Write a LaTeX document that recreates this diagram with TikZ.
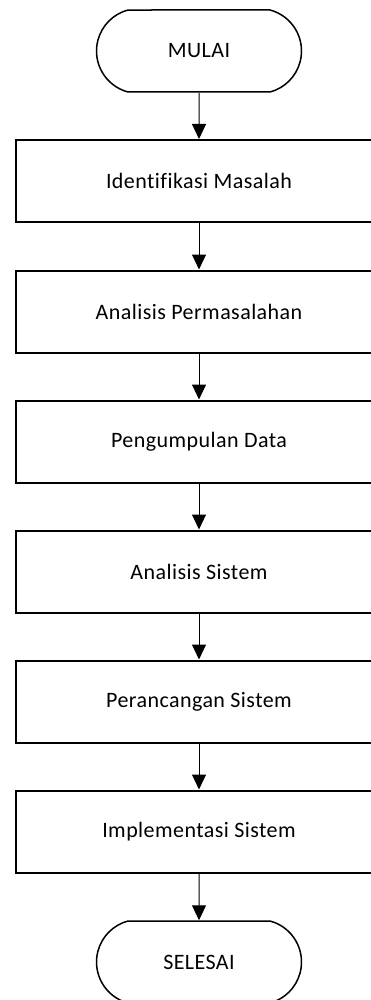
\documentclass[tikz,border=0pt]{standalone}
\usepackage{fontspec}
\setmainfont{Carlito}[Ligatures=NoCommon,LetterSpace=2]
\usetikzlibrary{shapes.misc,arrows.meta}
\begin{document}
\begin{tikzpicture}[x=1pt,y=1pt,
  term/.style={rounded rectangle, rounded rectangle arc length=150, draw=black, line width=1.5pt,
    minimum width=205pt, minimum height=82pt, inner sep=0pt, font=\fontsize{22}{26}\selectfont},
  procbox/.style={rectangle, draw=black, line width=2pt,
    minimum width=366pt, minimum height=82pt, inner sep=0pt, font=\fontsize{22}{26}\selectfont},
  flow/.style={draw=black, line width=1pt, -{Triangle[width=14pt,length=15pt]}}]
\clip (0,0) rectangle (371,-1000);
\fill[white] (0,0) rectangle (371,-1000);
\node[term] (start) at (199,-51) {MULAI};
\node[procbox] (b1) at (199,-181) {Identifikasi Masalah};
\node[procbox] (b2) at (199,-311.5) {Analisis Permasalahan};
\node[procbox] (b3) at (199,-441.5) {Pengumpulan Data};
\node[procbox] (b4) at (199,-571.5) {Analisis Sistem};
\node[procbox] (b5) at (199,-701.5) {Perancangan Sistem};
\node[procbox] (b6) at (199,-831.5) {Implementasi Sistem};
\node[term] (stop) at (199,-962) {SELESAI};
\draw[flow] (start) -- (b1);
\draw[flow] (b1) -- (b2);
\draw[flow] (b2) -- (b3);
\draw[flow] (b3) -- (b4);
\draw[flow] (b4) -- (b5);
\draw[flow] (b5) -- (b6);
\draw[flow] (b6) -- (stop);
\end{tikzpicture}
\end{document}
